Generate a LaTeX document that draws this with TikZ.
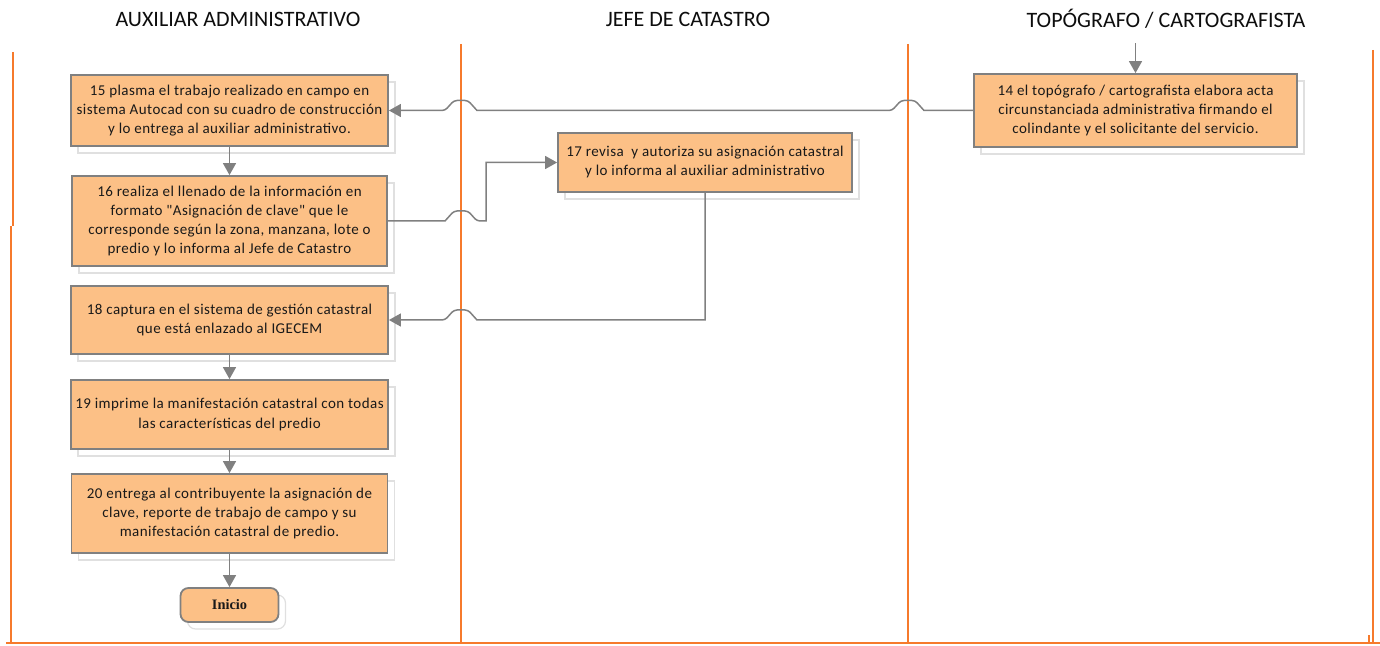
\documentclass[tikz,border=0pt]{standalone}
\usepackage{fontspec}
\setmainfont{Carlito}
\newfontfamily\inifont{Liberation Serif}
\newfontfamily\taskfont[LetterSpace=3]{Carlito}
\usetikzlibrary{arrows.meta,shadows,calc}
\definecolor{boxfill}{RGB}{252,192,134}
\definecolor{boxline}{RGB}{128,128,128}
\definecolor{lane}{RGB}{246,122,44}
\definecolor{conncol}{RGB}{128,128,128}
\begin{document}
\begin{tikzpicture}[x=0.5pt,y=-0.5pt,
  task/.style={draw=boxline, line width=0.9pt, fill=boxfill, inner sep=0pt,
    align=center, font=\taskfont\fontsize{7.5}{9.5}\selectfont, text=black!90,
    copy shadow={shadow xshift=3.5pt, shadow yshift=-3.5pt, draw=black!12,
      fill=white, line width=0.6pt}},
  terminal/.style={task, rounded corners=4pt, font=\inifont\bfseries\fontsize{7.2}{9}\selectfont},
  head/.style={font=\fontsize{11}{13}\selectfont, text=black!95},
  laneline/.style={draw=lane, line width=1pt},
  conn/.style={draw=conncol, line width=0.75pt, -{Triangle[width=6.5pt,length=6pt]}},
  hopL/.style={insert path={[rounded corners=1.5pt] -- ++(-9,-10) -- ++(-14,0) -- ++(-9,10) [sharp corners]}},
  hopR/.style={insert path={[rounded corners=1.5pt] -- ++(9,-10) -- ++(14,0) -- ++(9,10) [sharp corners]}}
]
\useasboundingbox (0,0) rectangle (1380,646);

% swimlane headings
\node[head] (h1) at (238,19) {AUXILIAR ADMINISTRATIVO};
\node[head] (h2) at (688,19) {JEFE DE CATASTRO};
\node[head] (h3) at (1166,19) {TOPÓGRAFO / CARTOGRAFISTA};

% swimlane borders
\draw[laneline] (13,52) -- (13,226);
\draw[laneline] (11,226) -- (11,643);
\draw[laneline] (461,44) -- (461,643);
\draw[laneline] (908,44) -- (908,643);
\draw[laneline] (1373,50) -- (1373,643);
\draw[laneline] (1369,635) -- (1369,643);
\draw[laneline] (6,643) -- (1380,643);
\coordinate (L2) at (461,0);
\coordinate (L3) at (908,0);

% process steps
\node[task, minimum width=161.5pt, minimum height=36.5pt] (b14) at (1135.5,110.5)
  {14 el topógrafo / cartografista elabora acta\\circunstanciada administrativa firmando el\\colindante y el solicitante del servicio.};
\node[task, minimum width=158.5pt, minimum height=35.5pt] (b15) at (229.5,110.5)
  {15 plasma el trabajo realizado en campo en\\sistema Autocad con su cuadro de construcción\\y lo entrega al auxiliar administrativo.};
\node[task, minimum width=157.5pt, minimum height=45pt] (b16) at (229.5,221)
  {16 realiza el llenado de la información en\\formato "Asignación de clave" que le\\corresponde según la zona, manzana, lote o\\predio y lo informa al Jefe de Catastro};
\node[task, minimum width=147pt, minimum height=29.5pt] (b17) at (705,162.5)
  {17 revisa \ y autoriza su asignación catastral\\y lo informa al auxiliar administrativo};
\node[task, minimum width=158.5pt, minimum height=34pt] (b18) at (229.5,320)
  {18 captura en el sistema de gestión catastral\\que está enlazado al IGECEM};
\node[task, minimum width=158.5pt, minimum height=34.5pt] (b19) at (229.5,414.5)
  {19 imprime la manifestación catastral con todas\\las características del predio};
\node[task, minimum width=158pt, minimum height=39.5pt] (b20) at (229.5,513.5)
  {20 entrega al contribuyente la asignación de\\clave, reporte de trabajo de campo y su\\manifestación catastral de predio.};
\node[terminal, minimum width=49pt, minimum height=17pt] (fin) at (229.5,605) {Inicio};

% connectors
\coordinate (in14) at ($(b14.north)+(0,-30)$);
\draw[conn] (in14) -- (b14.north);
\draw[conn] (b14.west) -- ($(L3 |- b14.west)+(16,0)$) [hopL]
  -- ($(L2 |- b14.west)+(16,0)$) [hopL] -- (b15.east);
\draw[conn] (b15.south) -- (b16.north);
\draw[conn] (b16.east) -- ($(L2 |- b16.east)+(-16,0)$) [hopR]
  -- ($(L2 |- b16.east)+(25,0)$) |- (b17.west);
\draw[conn] (b17.south) -- (b17.south |- b18.east)
  -- ($(L2 |- b18.east)+(16,0)$) [hopL] -- (b18.east);
\draw[conn] (b18.south) -- (b19.north);
\draw[conn] (b19.south) -- (b20.north);
\draw[conn] (b20.south) -- (fin.north);
\end{tikzpicture}
\end{document}
